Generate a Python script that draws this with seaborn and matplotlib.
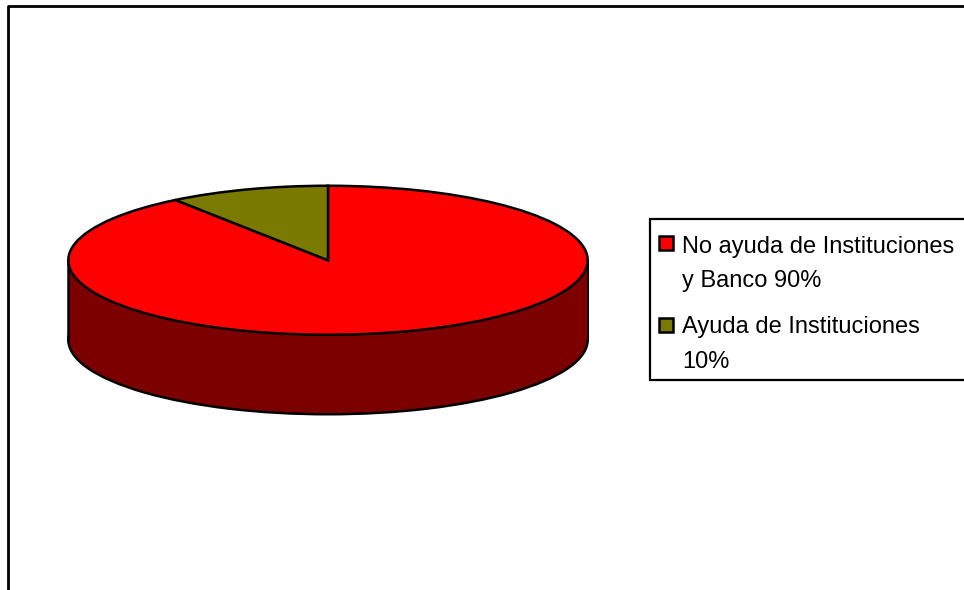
import matplotlib
matplotlib.use("Agg")
import matplotlib.pyplot as plt
from matplotlib.patches import Rectangle
import seaborn as sns

sns.set_theme(style="white")
plt.rcParams['font.family'] = ['Liberation Sans', 'DejaVu Sans']

labels = ["No ayuda de Instituciones\ny Banco 90%", "Ayuda de Instituciones\n10%"]
values = [90, 10]
top_colors = ["#FF0000", "#7A7A00"]
side_color = "#7C0000"

W, H = 964, 590
fig = plt.figure(figsize=(W/100, H/100), dpi=100, facecolor="white")

# outer frame, open at the bottom and right like the reference
bg = fig.add_axes([0, 0, 1, 1])
bg.set_xlim(0, W); bg.set_ylim(H, 0); bg.axis("off")
bg.plot([8, 8, W], [H, 6, 6], color="black", lw=2, solid_capstyle="butt")

# pie: squashed axes so that radius 1 is an ellipse
cx, cy, rx, ry, depth = 328, 260, 261, 75, 80
ax = fig.add_axes([(cx-rx)/W, 1-(cy+ry+depth)/H, 2*rx/W, (2*ry+depth)/H])
d = depth/ry
ax.pie([1], colors=[side_color], center=(0, -d), radius=1, frame=False,
       wedgeprops=dict(edgecolor="black", linewidth=1.8))
ax.bar(0, d, width=2, bottom=-d, color=side_color, linewidth=0)
ax.vlines([-1, 1], -d - 0.02, 0, color="black", lw=1.8)
ax.pie(values, colors=top_colors, startangle=90, counterclock=False, radius=1, frame=False,
       wedgeprops=dict(edgecolor="black", linewidth=1.8))
ax.set_aspect("auto")
ax.set_xlim(-1.005, 1.005)
ax.set_ylim(-1-d-0.01, 1.01)
ax.axis("off")
for a in fig.axes:
    a.patch.set_alpha(0)

# legend
bg.add_patch(Rectangle((650, 219), 320, 161, fc="white", ec="black", lw=1.6, zorder=3))
layout = [(243, 247, 281), (325, 327, 362)]
for lab, c, (sy, y1, y2) in zip(labels, top_colors, layout):
    bg.add_patch(Rectangle((659, sy-7), 14, 14, fc=c, ec="black", lw=1.8, zorder=4))
    l1, l2 = lab.split("\n")
    bg.text(682, y1, l1, fontsize=17, va="center", ha="left", color="black", zorder=4)
    bg.text(682, y2, l2, fontsize=17, va="center", ha="left", color="black", zorder=4)

fig.savefig("out.png", dpi=100, facecolor="white")
